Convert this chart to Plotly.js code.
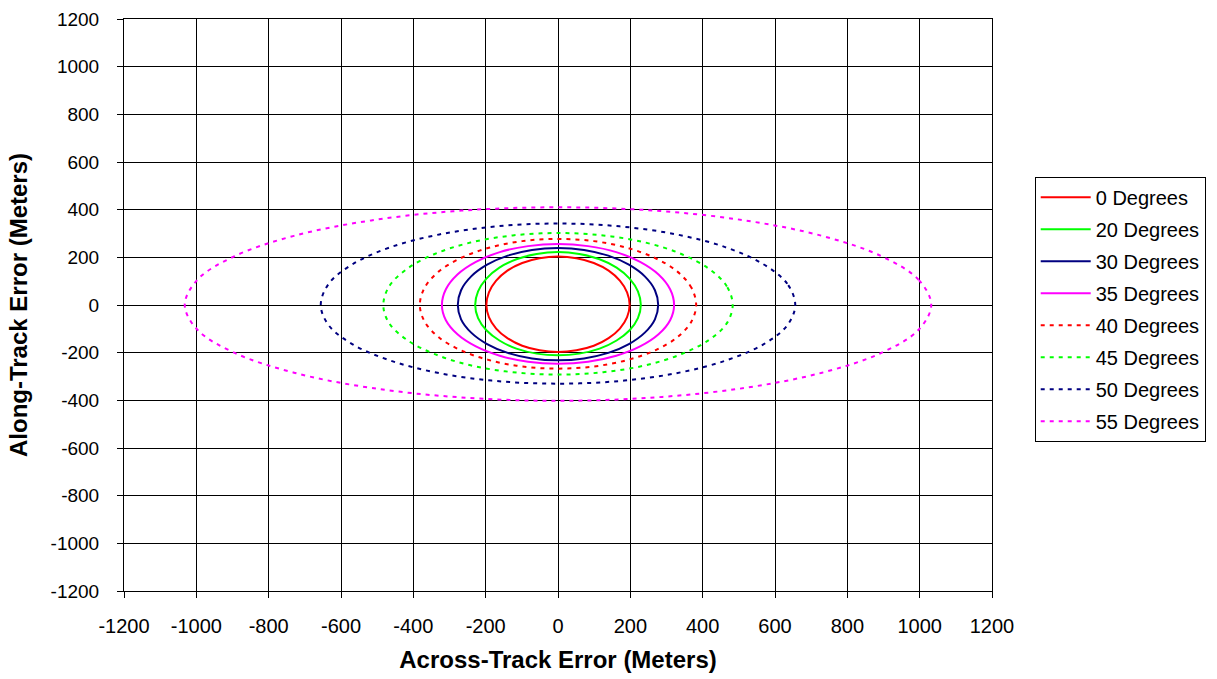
<!DOCTYPE html>
<html>
<head>
<meta charset="utf-8">
<script src="https://cdn.plot.ly/plotly-3.0.1.min.js"></script>
<style>
html,body{margin:0;padding:0;background:#fff;}
#chart{width:1217px;height:679px;}
</style>
</head>
<body>
<div id="chart"></div>
<script>
// Tick values and labels
const tickValues = [-1200,-1000,-800,-600,-400,-200,0,200,400,600,800,1000,1200];
const tickLabels = ['-1200','-1000','-800','-600','-400','-200','0','200','400','600','800','1000','1200'];

// Series names
const seriesNames = ['0 Degrees','20 Degrees','30 Degrees','35 Degrees','40 Degrees','45 Degrees','50 Degrees','55 Degrees'];

// Series points (across-track x, along-track y)
const x0 = [198,191,171,140,99,51,0,-51,-99,-140,-171,-191,-198,-191,-171,-140,-99,-51,0,51,99,140,171,191,198];
const y0 = [0,53,102,144,176,196,203,196,176,144,102,53,0,-51,-99,-139,-171,-190,-197,-190,-171,-139,-99,-51,0];

const x20 = [229,221,198,162,115,59,0,-59,-115,-162,-198,-221,-229,-221,-198,-162,-115,-59,0,59,115,162,198,221,229];
const y20 = [0,57,111,157,192,214,222,214,192,157,111,57,0,-55,-106,-149,-183,-204,-211,-204,-183,-149,-106,-55,0];

const x30 = [277,268,240,196,139,72,0,-72,-139,-196,-240,-268,-277,-268,-240,-196,-139,-72,0,72,139,196,240,268,277];
const y30 = [0,62,120,169,207,231,239,231,207,169,120,62,0,-60,-116,-164,-201,-224,-232,-224,-201,-164,-116,-60,0];

const x35 = [321,310,278,227,161,83,0,-83,-161,-227,-278,-310,-321,-310,-278,-227,-161,-83,0,83,161,227,278,310,321];
const y35 = [0,66,128,181,222,247,256,247,222,181,128,66,0,-64,-123,-174,-213,-238,-246,-238,-213,-174,-123,-64,0];

const x40 = [382,369,331,270,191,99,0,-99,-191,-270,-331,-369,-382,-369,-331,-270,-191,-99,0,99,191,270,331,369,382];
const y40 = [0,72,139,196,240,268,277,268,240,196,139,72,0,-69,-134,-189,-231,-258,-267,-258,-231,-189,-134,-69,0];

const x45 = [483,467,418,341,242,125,0,-125,-242,-341,-418,-467,-483,-467,-418,-341,-242,-125,0,125,242,341,418,467,483];
const y45 = [0,78,151,214,262,292,302,292,262,214,151,78,0,-76,-146,-206,-253,-282,-292,-282,-253,-206,-146,-76,0];

const x50 = [656,634,568,464,328,170,0,-170,-328,-464,-568,-634,-656,-634,-568,-464,-328,-170,0,170,328,464,568,634,656];
const y50 = [0,89,171,242,296,330,342,330,296,242,171,89,0,-85,-165,-233,-286,-319,-330,-319,-286,-233,-165,-85,0];

const x55 = [1032,997,894,730,516,267,0,-267,-516,-730,-894,-997,-1032,-997,-894,-730,-516,-267,0,267,516,730,894,997,1032];
const y55 = [0,106,205,290,355,396,410,396,355,290,205,106,0,-104,-201,-284,-348,-388,-402,-388,-348,-284,-201,-104,0];

const xs = [x0,x20,x30,x35,x40,x45,x50,x55];
const ys = [y0,y20,y30,y35,y40,y45,y50,y55];
const colors = ['#FF0000','#00FF00','#000080','#FF00FF','#FF0000','#00FF00','#000080','#FF00FF'];
const dashes = ['solid','solid','solid','solid','4px,5px','4px,5px','4px,5px','4px,5px'];

const FONT = 'Liberation Sans, Arial, sans-serif';

const traces = seriesNames.map((name,i)=>({
  type:'scatter', mode:'lines', name:name,
  x: xs[i], y: ys[i],
  legendgroup: 'g'+i,
  line:{color:colors[i], width:2, dash:dashes[i], shape:'spline', smoothing:1},
  hoverinfo:'skip'
}));

const axisBase = {
  range:[-1200,1200], autorange:false,
  tickmode:'array', tickvals:tickValues, ticktext:tickLabels,
  ticks:'outside', ticklen:6, tickcolor:'#000', tickwidth:1,
  showgrid:true, gridcolor:'#000', gridwidth:1,
  zeroline:true, zerolinecolor:'#000', zerolinewidth:1,
  showline:true, linecolor:'#000', linewidth:1, mirror:true,
  tickfont:{family:FONT, size:19, color:'#000'},
  fixedrange:true
};

const layout = {
  width:1217, height:679,
  paper_bgcolor:'#fff', plot_bgcolor:'#fff',
  margin:{l:124, r:224, t:19, b:88, pad:0},
  showlegend:true,
  xaxis: Object.assign({}, axisBase, {
    tickfont:{family:FONT, size:20, color:'#000'},
    ticklabelstandoff: 11,
    title:{text:'Across-Track Error (Meters)', font:{family:FONT, size:24, color:'#000', weight:'bold'}, standoff:15}
  }),
  yaxis: Object.assign({}, axisBase, {
    ticklabelstandoff: 14,
    title:{text:'Along-Track Error (Meters)', font:{family:FONT, size:24, color:'#000', weight:'bold'}, standoff:16}
  }),
  legend:{
    x:1.048, y:0.724, xanchor:'left', yanchor:'top',
    bgcolor:'#fff', bordercolor:'#000', borderwidth:1,
    font:{family:FONT, size:20, color:'#000'},
    tracegroupgap:3, itemwidth:50
  }
};

Plotly.newPlot('chart', traces, layout, {displayModeBar:false, staticPlot:true});
</script>
</body>
</html>
